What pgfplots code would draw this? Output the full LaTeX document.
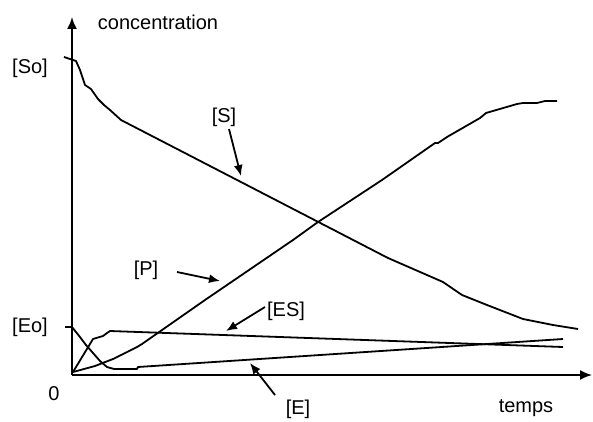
\documentclass[border=0pt]{standalone}
\usepackage{pgfplots}
\pgfplotsset{compat=1.18}
\usepackage{fontspec}
\setmainfont{Liberation Sans}
\usetikzlibrary{arrows.meta}
\begin{document}
\begin{tikzpicture}[font=\fontsize{20}{24}\selectfont]
\useasboundingbox (-72pt,-46pt) rectangle (521pt,375pt);
\begin{axis}[
  at={(0pt,0pt)}, anchor=origin,
  x=1pt, y=1pt, disabledatascaling,
  xmin=0, xmax=520, ymin=0, ymax=358,
  axis lines=left,
  axis line style={line width=1.8pt, -{Latex[length=12pt,width=10pt]}},
  xtick=\empty, ytick={48}, yticklabels={},
  major tick length=7pt, tick align=outside,
  tick style={line width=1.8pt, black},
  clip=false,
]
% [S]
\addplot[black, line width=1.8pt, line join=round] coordinates {(-8,318) (4,314) (8,305) (13,290) (19,286) (26,276) (32,270) (38,265) (49,255) (316,117) (371,93) (390,80) (415,70) (451,56) (481,50) (506,46)};
% [P]
\addplot[black, line width=1.8pt, line join=round] coordinates {(1,3) (23,9) (41,16) (65,28) (70,31) (133,75) (221,135) (246,153) (310,195) (363,232) (366,232) (375,238) (408,257) (414,262) (445,271) (451,272) (465,272) (473,274) (485,274)};
% [ES]
\addplot[black, line width=1.8pt, line join=round] coordinates {(1,3) (21,36) (31,39) (35,42) (38,44) (491,28)};
% [E]
\addplot[black, line width=1.8pt, line join=round] coordinates {(0,48) (4,43) (8,38) (14,30) (21,22) (28,14) (35,8) (42,6) (48,6) (65,6) (66,8) (491,36)};

\node at (axis cs:86,353) {concentration};
\node at (axis cs:-42,307) {[So]};
\node at (axis cs:-42,48) {[Eo]};
\node at (axis cs:-18,-19) {0};
\node at (axis cs:454,-33) {temps};
\node at (axis cs:152,258) {[S]};
\node at (axis cs:74,105) {[P]};
\node at (axis cs:214,64) {[ES]};
\node at (axis cs:226,-34) {[E]};
\draw[line width=1.8pt, -{Latex[length=11pt,width=9pt]}] (axis cs:157,246) -- (axis cs:169,199);
\draw[line width=1.8pt, -{Latex[length=11pt,width=9pt]}] (axis cs:105,103) -- (axis cs:148,94);
\draw[line width=1.8pt, -{Latex[length=11pt,width=9pt]}] (axis cs:193,68) -- (axis cs:154,44);
\draw[line width=1.8pt, -{Latex[length=11pt,width=9pt]}] (axis cs:203,-20) -- (axis cs:178,12);
\end{axis}
\end{tikzpicture}
\end{document}
